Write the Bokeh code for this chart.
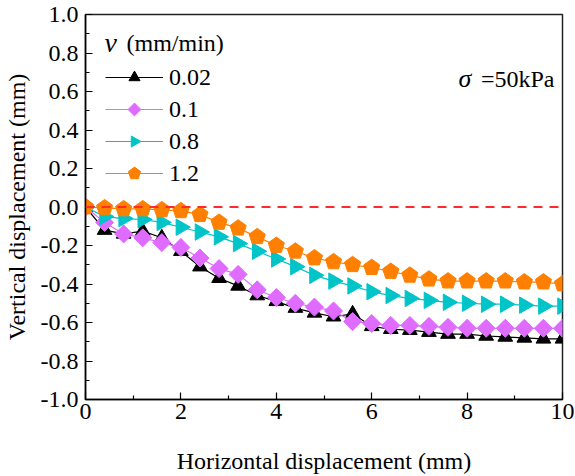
import numpy as np
from bokeh.plotting import figure
from bokeh.models import (Range1d, Legend, LegendItem, Label, FixedTicker,
                          PrintfTickFormatter, Span)
from bokeh.embed import file_html
from bokeh.resources import INLINE

# ---- data ----
x_disp = [0.0, 0.4, 0.8, 1.2, 1.6, 2.0, 2.4, 2.8, 3.2, 3.6, 4.0, 4.4, 4.8,
          5.2, 5.6, 6.0, 6.4, 6.8, 7.2, 7.6, 8.0, 8.4, 8.8, 9.2, 9.6, 10.0]
v_002 = [0.0, -0.12, -0.14, -0.125, -0.16, -0.23, -0.31, -0.37, -0.41, -0.46,
         -0.49, -0.525, -0.55, -0.57, -0.555, -0.62, -0.635, -0.64, -0.65,
         -0.66, -0.66, -0.67, -0.675, -0.68, -0.685, -0.685]
v_01 = [0.0, -0.08, -0.14, -0.16, -0.185, -0.21, -0.265, -0.32, -0.35, -0.43,
        -0.47, -0.50, -0.52, -0.54, -0.595, -0.605, -0.615, -0.615, -0.62,
        -0.625, -0.63, -0.63, -0.63, -0.63, -0.63, -0.63]
v_08 = [0.0, -0.05, -0.06, -0.065, -0.08, -0.105, -0.13, -0.155, -0.19, -0.23,
        -0.27, -0.31, -0.355, -0.385, -0.41, -0.44, -0.46, -0.475, -0.485,
        -0.495, -0.50, -0.505, -0.505, -0.51, -0.515, -0.515]
v_12 = [0.0, -0.005, -0.01, -0.01, -0.015, -0.02, -0.04, -0.08, -0.11, -0.155,
        -0.20, -0.23, -0.265, -0.285, -0.30, -0.315, -0.335, -0.355, -0.375,
        -0.385, -0.385, -0.385, -0.385, -0.39, -0.39, -0.40]
series_labels = ["0.02", "0.1", "0.8", "1.2"]
x_ticks = [0, 2, 4, 6, 8, 10]
x_minor = [1, 3, 5, 7, 9]
y_ticks = [-1.0, -0.8, -0.6, -0.4, -0.2, 0.0, 0.2, 0.4, 0.6, 0.8, 1.0]
y_minor = [-0.9, -0.7, -0.5, -0.3, -0.1, 0.1, 0.3, 0.5, 0.7, 0.9]

FONT = "Liberation Serif"

p = figure(width=575, height=476, output_backend="svg", toolbar_location=None,
           x_range=Range1d(0, 10), y_range=Range1d(-1, 1),
           min_border_left=84, min_border_right=13, min_border_top=14,
           min_border_bottom=77)
p.grid.visible = False
p.outline_line_color = "#222222"
p.outline_line_width = 1.5
p.background_fill_color = "white"
p.border_fill_color = "white"

for ax in (p.xaxis[0], p.yaxis[0]):
    ax.axis_line_color = "black"
    ax.axis_line_width = 1.5
    ax.major_tick_in = 7
    ax.major_tick_out = 0
    ax.minor_tick_in = 4
    ax.minor_tick_out = 0
    ax.major_tick_line_color = "black"
    ax.minor_tick_line_color = "black"
    ax.major_tick_line_width = 1.2
    ax.minor_tick_line_width = 1.2
    ax.major_label_text_font = FONT
    ax.major_label_text_font_size = "24px"
    ax.major_label_text_color = "black"
    ax.axis_label_text_font = FONT
    ax.axis_label_text_font_size = "24px"
    ax.axis_label_text_font_style = "normal"
    ax.axis_label_text_color = "black"

p.xaxis.ticker = FixedTicker(ticks=x_ticks, minor_ticks=x_minor)
p.yaxis.ticker = FixedTicker(ticks=y_ticks, minor_ticks=y_minor)
p.xaxis.formatter = PrintfTickFormatter(format="%d")
p.yaxis.formatter = PrintfTickFormatter(format="%.1f")
p.xaxis.major_label_standoff = 4
p.yaxis.major_label_standoff = 7
p.xaxis.axis_label = "Horizontal displacement (mm)"
p.yaxis.axis_label = "Vertical displacement (mm)"
p.xaxis.axis_label_standoff = 26
p.yaxis.axis_label_standoff = 8

p.add_layout(Span(location=0, dimension="width", line_color="#FF2A2A",
                  line_width=2, line_dash="9 7"))

black = "#000000"
magenta = "#DF6BFF"
cyan = "#00C4C8"
orange = "#FF8000"


def series(y, color, n, ang, rad):
    rl = p.line(x_disp, y, line_color=color, line_width=1.2)
    rm = p.ngon(x_disp, y, radius=rad, radius_units="screen", n=n, angle=ang,
                fill_color=color, line_color=color)
    return rl, rm


r1l, r1m = series(v_002, black, 3, 0.0, 8.5)
r2l, r2m = series(v_01, magenta, 4, 0.0, 9.0)
r3l, r3m = series(v_08, cyan, 3, -np.pi / 2, 9.5)
r4l, r4m = series(v_12, orange, 5, 0.0, 8.5)

legend = Legend(items=[
    LegendItem(label=series_labels[0], renderers=[r1l, r1m]),
    LegendItem(label=series_labels[1], renderers=[r2l, r2m]),
    LegendItem(label=series_labels[2], renderers=[r3l, r3m]),
    LegendItem(label=series_labels[3], renderers=[r4l, r4m]),
], location=(20, 210), glyph_width=58, glyph_height=32, label_height=32,
    label_standoff=6, spacing=0, padding=0, margin=0,
    border_line_alpha=0, background_fill_alpha=0,
    label_text_font=FONT, label_text_font_size="24px",
    label_text_color="black")
p.add_layout(legend)

# legend title: italic v + (mm/min)
p.add_layout(Label(x=19, y=357, x_units="screen", y_units="screen", text="v",
                   text_font=FONT, text_font_style="italic",
                   text_font_size="28px", text_baseline="middle",
                   text_color="black"))
p.add_layout(Label(x=41, y=357, x_units="screen", y_units="screen",
                   text="(mm/min)", text_font=FONT, text_font_size="24px",
                   text_baseline="middle", text_color="black"))
# condition label
p.add_layout(Label(x=373, y=321, x_units="screen", y_units="screen",
                   text="σ", text_font=FONT, text_font_style="italic",
                   text_font_size="26px", text_baseline="middle",
                   text_color="black"))
p.add_layout(Label(x=475, y=321, x_units="screen", y_units="screen",
                   text=" =50kPa", text_font=FONT, text_font_size="24px",
                   text_baseline="middle", text_align="right",
                   text_color="black"))

open("out.html", "w").write(file_html(p, INLINE))
